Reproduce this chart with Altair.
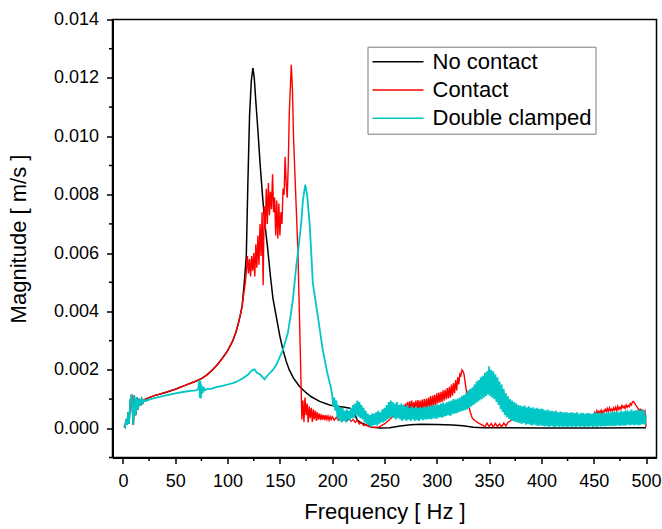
import altair as alt
import pandas as pd

FONT = "Liberation Sans"
SERIES = ["No contact", "Contact", "Double clamped"]
COLORS = ["#000000", "#ff0000", "#00c6c6"]

# axis ticks
X_TICKS = [0, 50, 100, 150, 200, 250, 300, 350, 400, 450, 500]
X_MINOR = [25, 75, 125, 175, 225, 275, 325, 375, 425, 475]
Y_TICKS = [0.0, 0.002, 0.004, 0.006, 0.008, 0.010, 0.012, 0.014]
Y_MINOR = [-0.001, 0.001, 0.003, 0.005, 0.007, 0.009, 0.011, 0.013]

# magnitudes below are in units of 1e-3 m/s (mm/s)
UNIT = 0.001

# shared low-frequency start (Hz / mm/s)
LOW_F = [1, 2, 3, 3.8, 5, 5.8, 7, 8.3, 9.9, 10.8, 12.1, 13.2, 14.4, 15.6, 16.8, 18, 19.2, 20.5]
LOW_V = [0.08, 0.04, 0.30, 0.12, 0.55, 0.15, 0.95, 1.15, 0.12, 1.12, 0.45, 1.05, 0.65, 1.02, 0.78, 1.0, 0.88, 0.98]

# ---- No contact (black) ----
BLACK_F = [25, 30, 40, 50, 60, 70, 75, 80, 85, 90, 95, 100, 105, 108, 110, 112, 114, 116,
           117.9, 119.4, 121, 122.7, 124.2, 125.5, 127, 129, 131, 133.7, 136, 138.5, 141, 143.3,
           146.5, 150, 153, 156, 159, 163, 168.8, 175, 180, 188, 197.5, 205, 212, 217, 220, 222,
           224, 228, 232, 238, 245, 255, 265, 275, 285, 300, 315, 325, 335, 345, 400, 450, 500]
BLACK_V = [1.05, 1.12, 1.22, 1.34, 1.48, 1.62, 1.70, 1.82, 1.98, 2.17, 2.4, 2.65, 3.0, 3.3, 3.55, 3.85, 4.2, 5.0,
           5.9, 8.4, 10.7, 11.9, 12.34, 12.0, 11.2, 10.2, 9.1, 7.83, 6.9, 6.1, 5.2, 4.47,
           3.83, 3.15, 2.68, 2.3, 2.0, 1.72, 1.43, 1.22, 1.08, 0.92, 0.8, 0.75, 0.72, 0.69, 0.6, 0.45,
           0.28, 0.18, 0.12, 0.04, 0.01, 0.02, 0.08, 0.12, 0.14, 0.13, 0.11, 0.09, 0.04, 0.02, 0.01, 0.01, 0.02]

# ---- Contact (red) ----
RED_F_A = [25, 30, 40, 50, 60, 70, 75, 80, 85, 90, 95, 100, 105, 108, 110, 112, 114, 116, 117]
RED_V_A = [1.05, 1.12, 1.22, 1.34, 1.48, 1.62, 1.70, 1.82, 1.98, 2.17, 2.4, 2.65, 3.0, 3.3, 3.55, 3.85, 4.2, 4.75, 5.0]
# 118..153 Hz, 1 Hz step
RED_NOISE_A = [5.4, 5.9, 5.3, 5.8, 5.2, 5.9, 5.4, 6.0, 5.2, 6.3,
               5.5, 6.6, 5.6, 7.0, 5.9, 7.4, 4.9, 7.6, 6.8, 8.2,
               7.0, 8.4, 7.3, 8.1, 7.5, 8.7, 7.4, 7.9, 6.6, 7.8,
               6.5, 7.7, 6.6, 7.4, 7.0, 8.2]
RED_F_B = [154, 155, 156, 157, 158, 159, 160.9, 162, 163, 164.7, 167.2, 170.4]
RED_V_B = [8.0, 9.3, 8.4, 7.9, 9.0, 10.8, 12.45, 11.6, 10.0, 8.4, 6.1, 1.3]
# 171..200 Hz, 1 Hz step
RED_NOISE_B = [0.30, 0.95, 0.22, 1.05, 0.45, 0.85, 0.20, 0.75, 0.35, 0.70,
               0.22, 0.65, 0.30, 0.60, 0.25, 0.55, 0.30, 0.50, 0.28, 0.48,
               0.30, 0.45, 0.28, 0.45, 0.30, 0.42, 0.28, 0.40, 0.30, 0.40]
# 202..230 Hz, 2 Hz step
RED_NOISE_C = [0.28, 0.38, 0.27, 0.36, 0.26, 0.35, 0.25, 0.33, 0.24, 0.30, 0.20, 0.28, 0.15, 0.20, 0.10]
RED_F_D = [232, 235, 240, 245, 250, 255, 259]
RED_V_D = [0.12, 0.06, 0.03, 0.05, 0.15, 0.30, 0.45]
# 260..329 Hz, 1 Hz step
RED_NOISE_D = [0.55, 0.40, 0.60, 0.45, 0.70, 0.50, 0.75, 0.55, 0.80, 0.55,
               0.85, 0.60, 0.90, 0.60, 0.92, 0.62, 0.95, 0.60, 0.90, 0.62,
               0.95, 0.62, 0.97, 0.60, 0.95, 0.65, 0.98, 0.62, 1.00, 0.65,
               1.02, 0.68, 1.05, 0.70, 1.10, 0.72, 1.12, 0.75, 1.15, 0.80,
               1.20, 0.85, 1.22, 0.88, 1.25, 0.90, 1.30, 0.95, 1.32, 1.00,
               1.38, 1.02, 1.42, 1.05, 1.50, 1.12, 1.55, 1.20, 1.65, 1.30,
               1.75, 1.50, 1.85, 1.80, 2.00, 1.95, 1.85, 1.60, 1.35, 1.10]
RED_F_E = [330, 332, 334, 337, 340, 344]
RED_V_E = [0.85, 0.55, 0.34, 0.25, 0.18, 0.10]
# 346..368 Hz, 2 Hz step
RED_NOISE_E = [0.05, 0.18, 0.06, 0.16, 0.04, 0.17, 0.06, 0.15, 0.05, 0.18, 0.08, 0.20]
# 370..445 Hz, 5 Hz step
RED_NOISE_F = [0.25, 0.35, 0.28, 0.38, 0.30, 0.36, 0.28, 0.40, 0.30, 0.38, 0.32, 0.40, 0.35, 0.42, 0.38, 0.45]
# 450..499 Hz, 1 Hz step
RED_NOISE_G = [0.45, 0.55, 0.48, 0.60, 0.50, 0.58, 0.52, 0.62, 0.50, 0.60,
               0.55, 0.65, 0.58, 0.68, 0.56, 0.70, 0.60, 0.66, 0.58, 0.70,
               0.62, 0.72, 0.60, 0.75, 0.64, 0.72, 0.66, 0.78, 0.70, 0.76,
               0.68, 0.80, 0.72, 0.78, 0.74, 0.85, 0.80, 0.90, 0.92, 0.86,
               0.80, 0.75, 0.70, 0.66, 0.60, 0.65, 0.58, 0.62, 0.55, 0.60]
RED_F_END = [500]
RED_V_END = [0.05]

# ---- Double clamped (cyan) ----
CYAN_F_A = [22, 25, 30, 40, 50, 60, 65, 70, 72, 73, 73.5, 74, 74.5, 75, 76, 77, 78, 80, 85, 90,
            95, 100, 105, 110, 115, 120, 123, 125.8, 128, 131, 135.4, 138, 143.3, 147, 150, 153,
            157.6, 160, 162.4, 165.6, 167.2, 170.4, 172, 174.2, 176, 178.4, 180, 181.5, 186.3,
            191, 195, 199]
CYAN_V_A = [0.93, 0.98, 1.03, 1.12, 1.20, 1.26, 1.28, 1.30, 1.35, 1.65, 1.05, 1.62, 1.02, 1.50, 1.20, 1.42, 1.30, 1.34, 1.36, 1.42,
            1.45, 1.50, 1.55, 1.62, 1.72, 1.85, 1.98, 2.02, 1.90, 1.85, 1.68, 1.80, 2.00, 2.20, 2.45, 2.70,
            3.26, 3.80, 4.40, 5.54, 6.00, 7.03, 7.80, 8.34, 8.00, 7.03, 6.00, 4.97, 3.83,
            2.68, 1.95, 1.35]
# 200..500 Hz, 1 Hz step
CYAN_NOISE = [1.15, 0.75, 1.05, 0.60, 0.95, 0.35, 0.80, 0.25, 0.70, 0.20,
              0.70, 0.25, 0.60, 0.20, 0.65, 0.30, 0.60, 0.25, 0.70, 0.35,
              0.80, 0.35, 0.85, 0.45, 0.95, 0.40, 0.90, 0.35, 0.80, 0.30,
              0.70, 0.20, 0.60, 0.15, 0.50, 0.10, 0.45, 0.05, 0.50, 0.10,
              0.50, 0.12, 0.55, 0.10, 0.60, 0.15, 0.55, 0.20, 0.65, 0.20,
              0.70, 0.25, 0.80, 0.30, 0.90, 0.35, 0.95, 0.40, 0.90, 0.35,
              0.85, 0.30, 0.90, 0.35, 0.80, 0.30, 0.85, 0.25, 0.80, 0.30,
              0.75, 0.25, 0.80, 0.30, 0.70, 0.25, 0.75, 0.30, 0.70, 0.25,
              0.75, 0.28, 0.70, 0.25, 0.72, 0.30, 0.70, 0.28, 0.75, 0.30,
              0.72, 0.30, 0.78, 0.32, 0.75, 0.30, 0.80, 0.35, 0.78, 0.32,
              0.82, 0.35, 0.80, 0.38, 0.85, 0.36, 0.88, 0.40, 0.85, 0.42,
              0.90, 0.45, 0.92, 0.42, 0.95, 0.48, 1.00, 0.50, 0.98, 0.52,
              1.02, 0.55, 1.05, 0.58, 1.10, 0.60, 1.15, 0.62, 1.20, 0.65,
              1.30, 0.70, 1.35, 0.75, 1.40, 0.80, 1.50, 0.85, 1.60, 0.90,
              1.65, 0.95, 1.75, 1.00, 1.80, 1.05, 1.90, 1.10, 1.95, 1.15,
              2.12, 1.10, 2.00, 1.05, 1.95, 1.00, 1.85, 0.90, 1.75, 0.80,
              1.60, 0.65, 1.50, 0.55, 1.35, 0.45, 1.20, 0.38, 1.10, 0.32,
              1.00, 0.28, 0.95, 0.25, 0.90, 0.22, 0.85, 0.20, 0.80, 0.18,
              0.78, 0.15, 0.75, 0.18, 0.78, 0.12, 0.72, 0.15, 0.75, 0.12,
              0.70, 0.10, 0.72, 0.12, 0.68, 0.10, 0.70, 0.08, 0.66, 0.10,
              0.68, 0.08, 0.65, 0.06, 0.62, 0.08, 0.64, 0.05, 0.60, 0.07,
              0.60, 0.06, 0.58, 0.05, 0.60, 0.07, 0.55, 0.05, 0.57, 0.06,
              0.56, 0.05, 0.54, 0.06, 0.56, 0.05, 0.52, 0.06, 0.55, 0.05,
              0.54, 0.06, 0.52, 0.05, 0.55, 0.07, 0.50, 0.05, 0.53, 0.06,
              0.52, 0.05, 0.50, 0.06, 0.53, 0.05, 0.51, 0.07, 0.50, 0.05,
              0.52, 0.06, 0.55, 0.05, 0.52, 0.07, 0.54, 0.06, 0.50, 0.07,
              0.55, 0.06, 0.53, 0.08, 0.56, 0.07, 0.54, 0.08, 0.58, 0.07,
              0.56, 0.08, 0.58, 0.10, 0.55, 0.08, 0.60, 0.10, 0.57, 0.09,
              0.60, 0.10, 0.62, 0.12, 0.58, 0.10, 0.64, 0.12, 0.60, 0.10,
              0.62, 0.12, 0.65, 0.10, 0.60, 0.12, 0.66, 0.14, 0.62, 0.12,
              0.45]


def grid(start, step, values):
    return [start + i * step for i in range(len(values))]


black_f = LOW_F + BLACK_F
black_v = LOW_V + BLACK_V
red_f = (LOW_F + RED_F_A + grid(118, 1, RED_NOISE_A) + RED_F_B + grid(171, 1, RED_NOISE_B)
         + grid(202, 2, RED_NOISE_C) + RED_F_D + grid(260, 1, RED_NOISE_D) + RED_F_E
         + grid(346, 2, RED_NOISE_E) + grid(370, 5, RED_NOISE_F) + grid(450, 1, RED_NOISE_G) + RED_F_END)
red_v = (LOW_V + RED_V_A + RED_NOISE_A + RED_V_B + RED_NOISE_B + RED_NOISE_C + RED_V_D
         + RED_NOISE_D + RED_V_E + RED_NOISE_E + RED_NOISE_F + RED_NOISE_G + RED_V_END)
cyan_f = LOW_F + CYAN_F_A + grid(200, 1, CYAN_NOISE)
cyan_v = LOW_V + CYAN_V_A + CYAN_NOISE


def frame(fs, vs, name):
    return pd.DataFrame({"f": fs, "v": [x * UNIT for x in vs], "series": name})


df_black = frame(black_f, black_v, SERIES[0])
df_red = frame(red_f, red_v, SERIES[1])
df_cyan = frame(cyan_f, cyan_v, SERIES[2])

W, H = 544, 438
xscale = alt.Scale(domain=[-10, 510], nice=False, zero=False)
yscale = alt.Scale(domain=[-0.001, 0.014], nice=False, zero=False)

x_axis = alt.Axis(values=X_TICKS, title="Frequency [ Hz ]", tickSize=6, labelPadding=9,
                  titlePadding=11, format="d", labelFlush=False, grid=False)
y_axis = alt.Axis(values=Y_TICKS, title="Magnitude [ m/s ]", tickSize=6, labelPadding=8,
                  titlePadding=23, format=".3f", grid=False)

legend = alt.Legend(title=None, orient="none", legendX=255, legendY=27.2,
                    symbolType="stroke", symbolSize=2600, symbolStrokeWidth=1.6,
                    labelFontSize=22, labelFont=FONT, labelColor="black", labelOffset=8,
                    strokeColor="#7a7a7a", fillColor="white", padding=4, rowPadding=6.3,
                    clipHeight=22, labelLimit=0)
color = alt.Color("series:N", scale=alt.Scale(domain=SERIES, range=COLORS), legend=legend)


def line(df, width):
    return alt.Chart(df).mark_line(strokeWidth=width).encode(
        x=alt.X("f:Q", scale=xscale, axis=x_axis),
        y=alt.Y("v:Q", scale=yscale, axis=y_axis),
        color=color,
    )


minor_x = alt.Chart(pd.DataFrame({"f": X_MINOR})).mark_rule(color="black", strokeWidth=1.5).encode(
    x=alt.X("f:Q", scale=xscale, axis=x_axis),
    y=alt.value(H), y2=alt.value(H + 3.5),
)
minor_y = alt.Chart(pd.DataFrame({"v": Y_MINOR})).mark_rule(color="black", strokeWidth=1.5).encode(
    y=alt.Y("v:Q", scale=yscale, axis=y_axis),
    x=alt.value(0), x2=alt.value(-3.5),
)

chart = alt.layer(
    line(df_black, 1.5), line(df_red, 1.4), line(df_cyan, 1.8), minor_x, minor_y
).properties(
    width=W, height=H,
    autosize=alt.AutoSizeParams(type="none"),
    padding={"left": 112.5, "top": 19.5, "right": 5.5, "bottom": 71.5},
    background="white",
).configure_axis(
    domainColor="black", domainWidth=2, tickColor="black", tickWidth=1.5,
    labelColor="black", titleColor="black", labelFont=FONT, titleFont=FONT,
    labelFontSize=18, titleFontSize=22, titleFontWeight="normal",
).configure_view(stroke="black", strokeWidth=1.5)

chart.save("out.html", embed_options={"renderer": "svg", "actions": False})
